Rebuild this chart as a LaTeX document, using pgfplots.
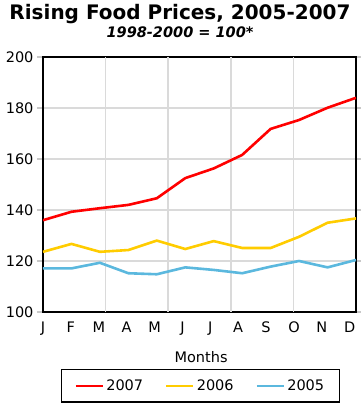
\documentclass[border=0pt]{standalone}
\usepackage{fontspec}
\setmainfont{DejaVu Sans}
\usepackage{pgfplots}
\pgfplotsset{compat=1.18}
\definecolor{c07}{HTML}{FF0000}
\definecolor{c06}{HTML}{FFCC00}
\definecolor{c05}{HTML}{5BB8DE}
\definecolor{gridc}{HTML}{DADADA}
\begin{document}
\begin{tikzpicture}[x=1pt,y=1pt]
\useasboundingbox (0,0) rectangle (360,406);
\node[font=\bfseries\fontsize{20}{24}\selectfont] at (180,392) {Rising Food Prices, 2005-2007};
\node[font=\bfseries\itshape\fontsize{14.5}{17}\selectfont] at (180,374) {1998-2000 = 100*};
\begin{axis}[
  at={(43pt,94pt)}, anchor=south west,
  scale only axis, width=313pt, height=255pt,
  xmin=0, xmax=11, ymin=100, ymax=200,
  ytick={100,120,...,200},
  xtick={0,0.98,1.96,2.94,3.92,4.9,5.88,6.86,7.84,8.82,9.8,10.78},
  xticklabels={J,F,M,A,M,J,J,A,S,O,N,D},
  ymajorgrids,
  grid style={gridc, line width=1.5pt},
  extra x ticks={2.2,4.4,6.6,8.8}, extra x tick labels={},
  extra x tick style={grid=major, major tick length=0pt},
  axis line style={line width=2.6pt},
  tick align=outside,
  major tick length=6pt,
  ytick style={gridc!80!gray, line width=1.5pt},
  xtick style={draw=none},
  tick label style={font=\fontsize{14.5}{17}\selectfont},
  /pgf/number format/assume math mode=true,
  xlabel={Months},
  xlabel style={font=\fontsize{14.5}{17}\selectfont, at={(axis description cs:0.505,-0.1765)}, anchor=center},
  legend columns=3,
  legend image code/.code={\draw[#1] (0pt,0pt) -- (27pt,0pt);},
  legend style={at={(0.503,-0.29)}, anchor=center, draw=black, line width=1.2pt,
    font=\fontsize{14.5}{17}\selectfont, inner xsep=13pt, inner ysep=8pt,
    /tikz/every even column/.append style={column sep=20pt}},
]
\addplot[c07, line width=2.6pt] coordinates {
(0,136) (1,139.3) (2,140.7) (3,142) (4,144.6) (5,152.5) (6,156.3) (7,161.6) (8,171.8) (9,175.3) (10,180.1) (11,184)};
\addlegendentry{2007}
\addplot[c06, line width=2.6pt] coordinates {
(0,123.6) (1,126.7) (2,123.6) (3,124.3) (4,128) (5,124.7) (6,127.8) (7,125.1) (8,125.1) (9,129.5) (10,135) (11,136.7)};
\addlegendentry{2006}
\addplot[c05, line width=2.6pt] coordinates {
(0,117.1) (1,117.1) (2,119.3) (3,115.2) (4,114.8) (5,117.5) (6,116.5) (7,115.2) (8,117.8) (9,120) (10,117.5) (11,120.4)};
\addlegendentry{2005}
\end{axis}
\end{tikzpicture}
\end{document}
